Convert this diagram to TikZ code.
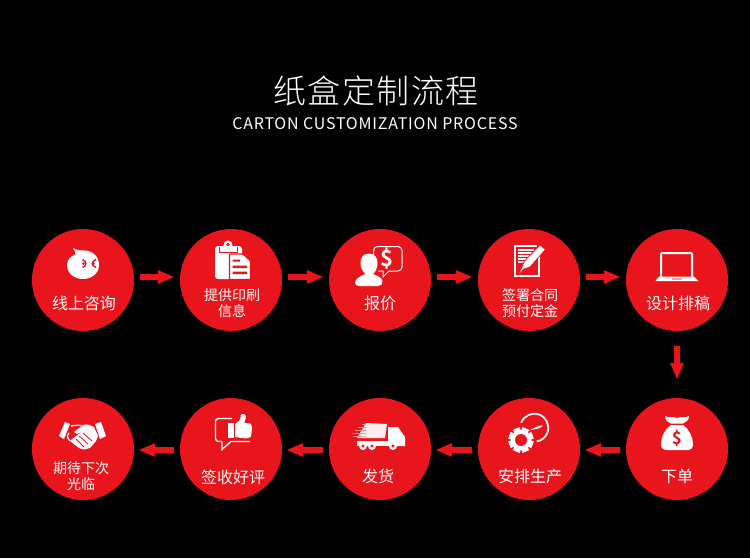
\documentclass[tikz,border=0pt]{standalone}
\usepackage{fontspec}
\usetikzlibrary{arrows.meta}
\newfontfamily\cjk{Noto Sans CJK SC}
\newfontfamily\cjkbold{Noto Sans CJK SC}[UprightFont=* Bold]
\newfontfamily\cjksub{Noto Sans CJK SC}[LetterSpace=5]
\newfontfamily\cjktitle{Noto Sans CJK SC}[UprightFont=* Light,LetterSpace=4.5]
\definecolor{brand}{RGB}{232,21,29}
\tikzset{
  stepdisc/.style={circle,fill=brand,draw=none,minimum size=102pt,inner sep=0pt},
  lab/.style={text=white,font=\fontsize{16}{17}\selectfont\cjk,inner sep=0pt,align=center},
  labtwo/.style={text=white,font=\fontsize{14}{16}\selectfont\cjk,inner sep=0pt,align=center},
  flow/.style={draw=brand,line width=5.8pt,-{Triangle[length=17pt,width=12.5pt,fill=brand]},shorten <=5.5pt,shorten >=5pt},
  flowback/.style={flow,shorten <=6pt,shorten >=4pt},
  ink/.style={fill=white,draw=none},
  redline/.style={draw=brand,line width=1.1pt},
}
\begin{document}
\begin{tikzpicture}[x=1pt,y=-1pt]
\useasboundingbox (0,0) rectangle (750,558);
\fill[black] (0,0) rectangle (750,558);
\node[text=white,inner sep=0pt,font=\fontsize{33}{36}\selectfont\cjktitle] (title) at (376,91) {纸盒定制流程};
\node[text=white,inner sep=0pt,font=\fontsize{16}{18}\selectfont\cjksub] (subtitle) at (375,124) {CARTON CUSTOMIZATION PROCESS};
% discs
\node[stepdisc] (s1) at (83,280) {};
\node[stepdisc] (s2) at (231,280) {};
\node[stepdisc] (s3) at (380,280) {};
\node[stepdisc] (s4) at (529,280) {};
\node[stepdisc] (s5) at (677,280) {};
\node[stepdisc] (s6) at (677,449) {};
\node[stepdisc] (s7) at (529,449) {};
\node[stepdisc] (s8) at (380,449) {};
\node[stepdisc] (s9) at (231,449) {};
\node[stepdisc] (s10) at (83,449) {};
% connectors
\draw[flow] ([yshift=3pt]s1.east) -- ([yshift=3pt]s2.west);
\draw[flow] ([yshift=3pt]s2.east) -- ([yshift=3pt]s3.west);
\draw[flow] ([yshift=3pt]s3.east) -- ([yshift=3pt]s4.west);
\draw[flow] ([yshift=3pt]s4.east) -- ([yshift=3pt]s5.west);
\draw[flow,shorten <=15pt,shorten >=18pt] (s5.south) -- (s6.north);
\draw[flowback] ([yshift=-1pt]s6.west) -- ([yshift=-1pt]s7.east);
\draw[flowback] ([yshift=-1pt]s7.west) -- ([yshift=-1pt]s8.east);
\draw[flowback] ([yshift=-1pt]s8.west) -- ([yshift=-1pt]s9.east);
\draw[flowback] ([yshift=-1pt]s9.west) -- ([yshift=-1pt]s10.east);
% labels
\node[lab] (l1) at (84,303) {线上咨询};
\node[labtwo] (l2) at (232,303) {提供印刷\\信息};
\node[lab] (l3) at (380,303) {报价};
\node[labtwo] (l4) at (530,303) {签署合同\\预付定金};
\node[lab] (l5) at (678,303) {设计排稿};
\node[lab] (l6) at (677,476) {下单};
\node[lab] (l7) at (530,476) {安排生产};
\node[lab] (l8) at (378,476) {发货};
\node[lab] (l9) at (233,477) {签收好评};
\node[labtwo] (l10) at (81,476) {期待下次\\光临};
% icon 1: blob
\fill[ink] (73,248) .. controls (77,250.5) and (81,250.5) .. (84,250.5)
  .. controls (93,250.5) and (99,257) .. (99,265)
  .. controls (99,274) and (91,279) .. (83,279)
  .. controls (74,279) and (67,273) .. (67,265)
  .. controls (67,259.5) and (71,256) .. (75.5,254.5)
  .. controls (75.5,252) and (74.5,250) .. (73,248) -- cycle;
\draw[redline,line width=1.4pt] (82.5,259.5) .. controls (87,261.5) and (87,265.5) .. (82.5,267.5);
\draw[redline,line width=1.4pt] (96,259.5) .. controls (91,261.5) and (91,265.5) .. (96,267.5);
\fill[brand] (83.5,263.5) circle (1.5) (93.5,263.5) circle (1.5);
% icon 2: clipboard
\fill[ink,rounded corners=3pt] (215,246) rectangle (242,279);
\fill[ink] (228,245) circle (4.5);
\fill[brand] (228,244.5) circle (1.8);
\draw[brand,line width=1pt] (219.5,247) -- (219.5,252.5) -- (237,252.5) -- (237,247);
\fill[ink,draw=brand,line width=1.2pt,rounded corners=.8pt] (229.5,254) -- (243,254) -- (250.5,261) -- (250.5,279.5) -- (229.5,279.5) -- cycle;
\fill[brand] (232.5,259.5) rectangle (240,261.5) (232.5,265.5) rectangle (247,268) (232.5,271.5) rectangle (247,274);
% icon 3: person + bubble
\draw[white,line width=1pt,rounded corners=4pt] (373.5,256) -- (373.5,246.5) -- (402,246.5) -- (402,271) -- (389,271);
\draw[white,line width=1pt] (389,271) -- (383,277) -- (383,271) -- (378,271);
\node[text=white,inner sep=0pt,font=\fontsize{22}{24}\selectfont\cjkbold] (dollar3) at (386.5,258.5) {\$};
\fill[ink] (369,253.5) .. controls (375,253.5) and (377.5,258) .. (377.5,263)
  .. controls (377.5,268) and (375.5,272) .. (373,274)
  .. controls (378,276) and (382,278) .. (382.5,281)
  .. controls (383,284) and (381,286) .. (378,286)
  -- (360,286) .. controls (356,286) and (354.5,284) .. (355.5,281)
  .. controls (356.5,278) and (361,276) .. (365.5,274)
  .. controls (362,271) and (360.5,267) .. (360.5,263)
  .. controls (360.5,258) and (363,253.5) .. (369,253.5) -- cycle;
% icon 4: contract + pen
\draw[white,line width=1.4pt] (539,254) -- (539,276) -- (515,276) -- (515,246) -- (537,246);
\foreach \y/\e in {250/534,253/532,256/530,259/528,262/526}
  \draw[white,line width=1.1pt] (518,\y) -- (\e,\y);
\fill[ink,draw=brand,line width=.8pt] (540,245) -- (545.5,249.5) -- (530,267) -- (524,269) -- (520,273.5) -- (519,272.5) -- (522,267) -- (524.5,261) -- cycle;
% icon 5: laptop
\draw[white,line width=2pt,rounded corners=1pt] (661,277) -- (661,253) -- (692,253) -- (692,277);
\fill[ink] (659,276.5) -- (694,276.5) -- (698.5,281) -- (655.5,281) -- cycle;
\fill[white!60!brand] (672,278) rectangle (682,280);
% icon 6: money bag
\fill[ink] (665,416) .. controls (670,418.5) and (672,416) .. (677,418)
  .. controls (682,416) and (684,418.5) .. (689,416)
  .. controls (689,420) and (686,422.5) .. (683,423.5) -- (671,423.5)
  .. controls (668,422.5) and (665,420) .. (665,416) -- cycle;
\fill[ink] (671,425) -- (683,425) .. controls (689,429) and (693,437) .. (693,444)
  .. controls (693,448) and (691,450) .. (687,450) -- (667,450)
  .. controls (663,450) and (661,448) .. (661,444)
  .. controls (661,437) and (665,429) .. (671,425) -- cycle;
\node[text=brand,inner sep=0pt,font=\fontsize{17}{18}\selectfont\cjkbold] (dollar6) at (677,438) {\$};
% icon 7: gear + dial
\foreach \a in {0,45,...,315}
  \fill[ink,rotate around={\a+22.5:(521,440)}] (517.5,427.5) rectangle (524.5,433);
\fill[ink] (521,440) circle (10);
\fill[brand] (521,440) circle (6);
\draw[white,line width=1.8pt] (534.3,427.7)+(200:14) arc[start angle=200,end angle=440,radius=14];
\fill[ink] (528.3,430.8) -- (539,425.8) -- (543,425.5) -- (540,428) -- cycle;
% icon 8: truck
\fill[white!92!brand] (366,423) -- (387,424) -- (385,438) -- (357,438) -- cycle;
\foreach \y/\s in {424/362,427/358,430/355,433/352,436/353}
  \draw[white!55!brand,line width=.9pt] (\s,\y) -- (366,\y);
\fill[ink] (357,441) -- (389,441) -- (389,446) -- (357,446) -- cycle;
\fill[ink] (388,427) -- (398,427) -- (405,437) -- (405,446) -- (388,446) -- cycle;
\foreach \x in {363,372,393}{
  \fill[ink] (\x,446) circle (4);
  \fill[brand] (\x,446) circle (1.6);
}
% icon 9: thumbs up
\draw[white,line width=1.4pt,rounded corners=3pt] (232,418.5) -- (215.5,418.5) -- (215.5,441.5) -- (222,441.5);
\draw[white,line width=1.4pt] (222,441.5) -- (222,449.5) -- (231,441.5) -- (250,441.5);
\fill[ink] (229,424) rectangle (233,436.5);
\draw[white,line width=1pt] (228,423.5) rectangle (233.5,437);
\fill[ink,rounded corners=1pt] (235,424) -- (240,420) -- (241,414) -- (245,414) -- (246,418) -- (244,423) -- (251,423.5) -- (252,428) -- (251,437) -- (246,438.5) -- (235,437) -- cycle;
% icon 10: handshake
\fill[ink] (65,422) -- (70,424) -- (64,439) -- (59,436) -- cycle;
\fill[ink] (101,422) -- (95,424) -- (100,439) -- (106,436) -- cycle;
\draw[white,line width=1.2pt] (71,426) .. controls (76,425) and (80,425) .. (84,426);
\draw[white,line width=1.2pt] (69,433) .. controls (66,437) and (68,438) .. (70,441);
\fill[ink] (84,424.5) -- (88,424.5) -- (94,427) -- (98,436) -- (96,441) -- (90,448) -- (84,449.5) -- (79,448) -- (70,441) -- (72,439) -- (79,434) -- (83,431) -- (77,434) -- (74,432) -- cycle;
\draw[redline,line width=.9pt] (83,433) -- (92,441) (79,436) -- (88,444) (76,439) -- (84,447);
\end{tikzpicture}
\end{document}
